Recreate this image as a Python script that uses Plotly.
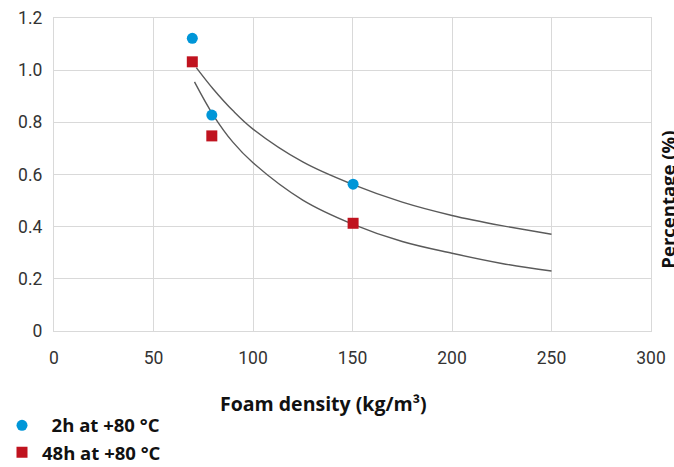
import plotly.graph_objects as go

# Measured points
density_pts = [69.5, 79.3, 150.3]
shrink_2h = [1.122, 0.828, 0.563]
shrink_48h = [1.032, 0.748, 0.413]

# Trend curves
curve_upper_x = [71.5, 80, 90, 100, 125, 150, 175, 200, 225, 250]
curve_upper_y = [1.010, 0.928, 0.844, 0.774, 0.648, 0.562, 0.494, 0.443, 0.404, 0.371]
curve_lower_x = [70.6, 80, 90, 100, 125, 150, 175, 200, 225, 250]
curve_lower_y = [0.955, 0.828, 0.723, 0.645, 0.502, 0.410, 0.343, 0.298, 0.259, 0.230]

x_ticks = [0, 50, 100, 150, 200, 250, 300]
x_ticktext = ["0", "50", "100", "150", "200", "250", "300"]
y_ticks = [0, 0.2, 0.4, 0.6, 0.8, 1.0, 1.2]
y_ticktext = ["0", "0.2", "0.4", "0.6", "0.8", "1.0", "1.2"]

label_2h = "\u00a0\u00a02h at +80 °C"
label_48h = "48h at +80 °C"
x_title = "Foam density (kg/m³)"
y_title = "Percentage (%)"

FONT = "Roboto"
BOLD_FONT = "Open Sans"
CURVE = "#5a5a5a"
BLUE = "#0096d8"
RED = "#c0131f"
GRID = "#d9d9d9"

fig = go.Figure()
fig.add_trace(go.Scatter(x=curve_upper_x, y=curve_upper_y, mode="lines",
                         line=dict(color=CURVE, width=1.4, shape="spline"),
                         showlegend=False, hoverinfo="skip"))
fig.add_trace(go.Scatter(x=curve_lower_x, y=curve_lower_y, mode="lines",
                         line=dict(color=CURVE, width=1.4, shape="spline"),
                         showlegend=False, hoverinfo="skip"))
fig.add_trace(go.Scatter(x=density_pts, y=shrink_2h, mode="markers", name=label_2h,
                         marker=dict(symbol="circle", size=11, color=BLUE)))
fig.add_trace(go.Scatter(x=density_pts, y=shrink_48h, mode="markers", name=label_48h,
                         marker=dict(symbol="square", size=11, color=RED)))

fig.update_layout(
    width=674, height=467,
    margin=dict(l=54, r=23, t=18, b=136, autoexpand=False),
    paper_bgcolor="white", plot_bgcolor="white",
    font=dict(family=FONT, size=17, color="#333333"),
    legend=dict(x=-0.0871, xanchor="left", y=-0.242, yanchor="top",
                font=dict(family=BOLD_FONT, size=18.5, color="#111111", weight="bold"),
                bgcolor="rgba(0,0,0,0)", itemwidth=30, tracegroupgap=0),
    xaxis=dict(range=[0, 300], tickvals=x_ticks, ticktext=x_ticktext,
               showgrid=True, gridcolor=GRID, gridwidth=1.2,
               showline=True, linecolor=GRID, linewidth=1.2, mirror=True,
               zeroline=False, ticks="", ticklabelstandoff=11,
               tickfont=dict(family=FONT, size=17.5, color="#333333")),
    yaxis=dict(range=[0, 1.2], tickvals=y_ticks, ticktext=y_ticktext,
               showgrid=True, gridcolor=GRID, gridwidth=1.2,
               showline=True, linecolor=GRID, linewidth=1.2, mirror=True,
               zeroline=False, ticks="", ticklabelstandoff=7,
               tickfont=dict(family=FONT, size=17.5, color="#333333")),
    annotations=[
        dict(text=x_title, xref="paper", yref="paper", x=0.4506, y=-0.2305,
             xanchor="center", yanchor="middle", showarrow=False,
             font=dict(family=BOLD_FONT, size=19.5, color="#111111", weight="bold")),
        dict(text=y_title, xref="paper", yref="paper", x=1.0275, y=0.421,
             xanchor="center", yanchor="middle", showarrow=False, textangle=-90,
             font=dict(family=BOLD_FONT, size=18.5, color="#111111", weight="bold")),
    ],
)

fig.write_html("out.html")
